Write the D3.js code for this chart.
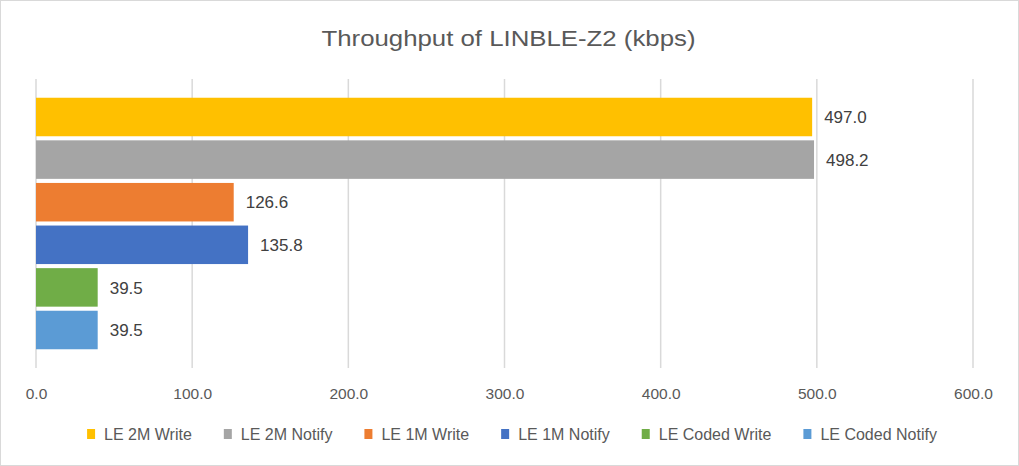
<!DOCTYPE html>
<html>
<head>
<meta charset="utf-8">
<script src="https://cdn.jsdelivr.net/npm/d3@7"></script>
<style>
  html, body { margin: 0; padding: 0; background: #fff; }
  svg { display: block; font-family: "Liberation Sans", Arial, sans-serif; }
</style>
</head>
<body>
<svg id="chart" width="1019" height="466"></svg>
<script>
const title = "Throughput of LINBLE-Z2 (kbps)";
const seriesNames = ["LE 2M Write", "LE 2M Notify", "LE 1M Write", "LE 1M Notify", "LE Coded Write", "LE Coded Notify"];
const seriesValues = [497.0, 498.2, 126.6, 135.8, 39.5, 39.5];
const seriesColors = ["#FFC000", "#A5A5A5", "#ED7D31", "#4472C4", "#70AD47", "#5B9BD5"];
const tickValues = [0, 100, 200, 300, 400, 500, 600];

const W = 1019, H = 466;
const svg = d3.select("#chart");

// chart border
svg.append("rect").attr("x", 0.5).attr("y", 0.5).attr("width", W - 1).attr("height", H - 1)
  .attr("fill", "#fff").attr("stroke", "#D9D9D9").attr("stroke-width", 1);

const plot = { left: 36, right: 973, top: 79, bottom: 368 };

const x = d3.scaleLinear().domain([0, 600]).range([plot.left, plot.right]);
const y = d3.scaleBand().domain(seriesNames).range([plot.top, plot.bottom])
  .paddingInner(0.096).paddingOuter(0.44);

// title
svg.append("text")
  .attr("x", W / 2 - 1).attr("y", 46)
  .attr("text-anchor", "middle")
  .attr("font-size", 22)
  .attr("fill", "#595959")
  .attr("textLength", 374)
  .attr("lengthAdjust", "spacingAndGlyphs")
  .text(title);

// gridlines
svg.append("g").selectAll("line").data(tickValues).join("line")
  .attr("x1", d => x(d)).attr("x2", d => x(d))
  .attr("y1", plot.top).attr("y2", plot.bottom)
  .attr("stroke", "#D9D9D9").attr("stroke-width", 1.5);

// axis
const axis = d3.axisBottom(x).tickValues(tickValues).tickFormat(d3.format(".1f")).tickSize(0).tickPadding(0);
const axG = svg.append("g").attr("transform", `translate(0, ${plot.bottom})`).call(axis);
axG.select(".domain").remove();
axG.selectAll("text")
  .attr("y", 31)
  .attr("dy", 0)
  .attr("font-size", 15.5)
  .attr("font-family", "Liberation Sans, Arial, sans-serif")
  .attr("fill", "#595959");

// bars
svg.append("g").selectAll("rect").data(seriesNames).join("rect")
  .attr("x", x(0))
  .attr("y", d => y(d))
  .attr("width", (d, i) => x(seriesValues[i]) - x(0))
  .attr("height", y.bandwidth())
  .attr("fill", (d, i) => seriesColors[i]);

// value labels
svg.append("g").selectAll("text").data(seriesNames).join("text")
  .attr("x", (d, i) => x(seriesValues[i]) + 12)
  .attr("y", d => y(d) + y.bandwidth() / 2)
  .attr("dy", "0.36em")
  .attr("font-size", 17)
  .attr("fill", "#404040")
  .text((d, i) => seriesValues[i].toFixed(1));

// legend
const lg = svg.append("g");
const items = lg.selectAll("g").data(seriesNames).join("g");
items.append("rect").attr("width", 8).attr("height", 10).attr("y", -5)
  .attr("fill", (d, i) => seriesColors[i]);
items.append("text").attr("x", 17).attr("dy", "0.36em")
  .attr("font-size", 16).attr("fill", "#595959").text(d => d);
let cx = 0;
items.each(function () {
  const t = d3.select(this).select("text").node().getComputedTextLength();
  d3.select(this).attr("transform", `translate(${cx}, 0)`);
  cx += 17 + t + 32;
});
const totalW = cx - 32;
lg.attr("transform", `translate(${512 - totalW / 2}, 434)`);
</script>
</body>
</html>
